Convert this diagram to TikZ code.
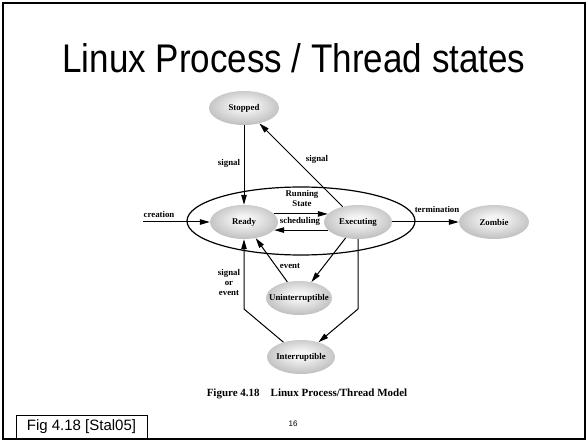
\documentclass[tikz,border=0pt]{standalone}
\usepackage{fontspec}
\setmainfont{Liberation Serif}
\newfontfamily\arialfont{Liberation Sans}
\usetikzlibrary{positioning}
\usetikzlibrary{arrows.meta}
\usetikzlibrary{shapes.geometric}
\definecolor{procin}{RGB}{244,244,244}
\definecolor{procout}{RGB}{135,135,135}
\pgfdeclareradialshading{procshade}{\pgfpoint{0bp}{4bp}}{color(0bp)=(procin); color(6bp)=(procin); color(50bp)=(procout); color(75bp)=(procout)}
\tikzstyle{every link} = []
\tikzstyle{link} = [-{Triangle[length=10pt,width=5.5pt]}, draw, line width=1pt, every link]
\tikzstyle{proc} = [ellipse, minimum width=68pt, minimum height=34pt, inner xsep=-12pt, inner ysep=0pt, shade, shading=procshade, font=\fontsize{8.8}{9}\selectfont\bfseries]
\tikzstyle{lbl} = [inner sep=0pt, align=center, font=\fontsize{8.8}{10}\selectfont\bfseries]

\begin{document}
\begin{tikzpicture}[x=1pt, y=-1pt, node distance=114pt]
        \useasboundingbox (0,0) rectangle (587,441);
        \draw[line width=2.5pt] (3,3) rectangle (585,439);
        \node[font=\arialfont\fontsize{40}{44}\selectfont, xscale=0.875, transform shape] (title) at (294,58) {Linux Process / Thread states};

        % states
        \node[proc] (ready) at (244,222) {Ready};
        \node[proc] (exec) [right of=ready] {Executing};
        \node[proc, minimum width=70pt] (stopped) [above of=ready] {Stopped};
        \node[proc, minimum width=70pt] (zombie) at (494,222) {Zombie};
        \node[proc, minimum width=66pt] (unint) at (299,298) {Uninterruptible};
        \node[proc] (intr) at (301,357) {Interruptible};
        \node[draw, ellipse, line width=1.2pt, minimum width=228pt, minimum height=68pt] (running) at (301,221) {};

        \coordinate (start) at (143,222);
        \coordinate (bendr) at (358,309);
        \coordinate (bendl) at (244,309);

        % transitions
        \path[link] (start) -- (ready);
        \path[link] (ready.15) -- (exec.165);
        \path[link] (exec.195) -- (ready.345);
        \path[link] (exec) -- (zombie);
        \path[link] (stopped) -- (ready);
        \path[link] (exec) -- (stopped);
        \path[link] (unint) -- (ready);
        \path[link] (exec) -- (unint);
        \path[link] (exec) -- (bendr) -- (intr);
        \path[link] (intr) -- (bendl) -- (ready);

        \node[lbl] (l-creation) at (159,214) {creation};
        \node[lbl] (l-sched) at (300,221) {scheduling};
        \node[lbl] (l-running) at (302,198) {Running\\State};
        \node[lbl] (l-term) at (437,209) {termination};
        \node[lbl] (l-stop) at (229,163) {signal};
        \node[lbl] (l-signal) at (317,159) {signal};
        \node[lbl] (l-event) at (290,266) {event};
        \node[lbl] (l-wake) at (229,282) {signal\\or\\event};

        \node[font=\bfseries\fontsize{11}{13}\selectfont] (caption) at (307,394) {Figure 4.18\hspace{1em}Linux Process/Thread Model};
        \node[font=\arialfont\fontsize{8}{9}\selectfont] (pagenum) at (293,424) {16};
        \node[draw, line width=1pt, minimum width=131pt, minimum height=24pt, inner sep=0pt, font=\arialfont\fontsize{15}{17}\selectfont] (source) at (81.5,427) {Fig 4.18 [Stal05]};
\end{tikzpicture}
\end{document}
